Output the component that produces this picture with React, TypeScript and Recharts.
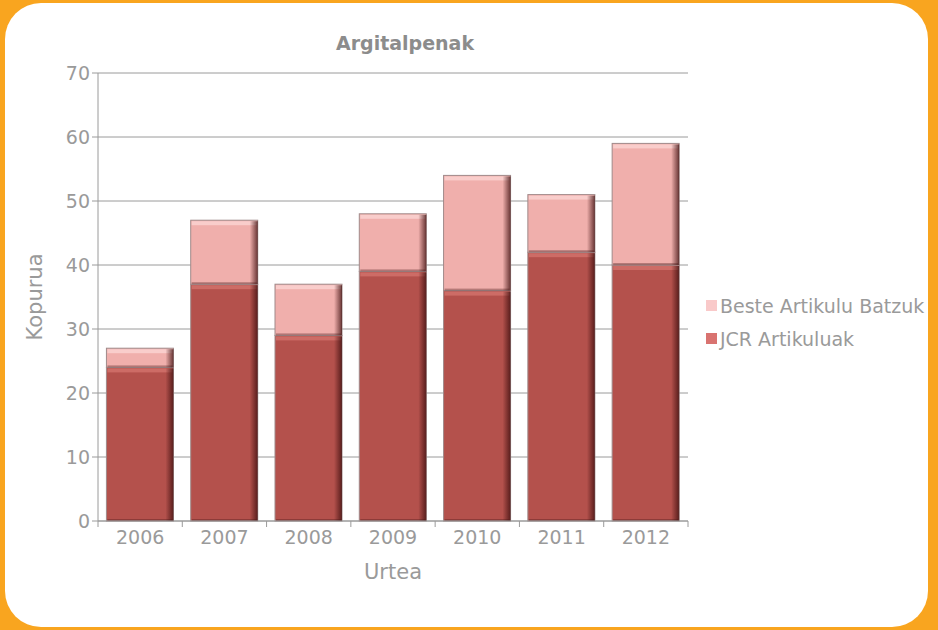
import React from "react";
import { BarChart, Bar, XAxis, YAxis, CartesianGrid, Label } from "recharts";

// data
const years = ["2006", "2007", "2008", "2009", "2010", "2011", "2012"];
const jcrArtikuluak = [24, 37, 29, 39, 36, 42, 40];
const besteArtikuluak = [3, 10, 8, 9, 18, 9, 19];
const yTicks = [0, 10, 20, 30, 40, 50, 60, 70];

const seriesNames = {
  jcr: "JCR Artikuluak",
  beste: "Beste Artikulu Batzuk",
};

const data = years.map((year, i) => ({
  year,
  jcr: jcrArtikuluak[i],
  beste: besteArtikuluak[i],
}));

const FONT = "'DejaVu Sans', sans-serif";
const GREY = "#9a9a9a";

function BevelBar(props: any) {
  const { x, y, width, height, tone } = props;
  if (!height || height <= 0) return null;
  const body = tone === "dark" ? "#b4514c" : "#f0afac";
  const hi = tone === "dark" ? "#cd6c66" : "#f9cdcb";
  const hiH = Math.min(4, Math.max(0, height - 2));
  return (
    <g>
      <rect x={x} y={y} width={width} height={height} fill={body} stroke="#a08a8a" strokeWidth={1} />
      <rect x={x + 1} y={y + 1} width={width - 2} height={hiH} fill={hi} />
      <rect x={x + width - 8} y={y + 1} width={8} height={height - 1} fill="url(#shadeR)" />
      <rect x={x + 1} y={y + height - 2} width={width - 2} height={2} fill="rgba(70,20,20,0.35)" />
    </g>
  );
}

function XTick(props: any) {
  const { x, y, payload, index } = props;
  const half = payload?.offset ?? 42;
  return (
    <g>
      <line x1={x - half} y1={y - 8} x2={x - half} y2={y - 2} stroke={GREY} />
      {index === years.length - 1 && (
        <line x1={x + half} y1={y - 8} x2={x + half} y2={y - 2} stroke={GREY} />
      )}
      <text x={x} y={y + 15} textAnchor="middle" fill={GREY} fontSize={19} fontFamily={FONT}>
        {payload.value}
      </text>
    </g>
  );
}

export default function App() {
  return (
    <div
      style={{
        position: "absolute",
        top: 0,
        left: 0,
        width: 938,
        height: 630,
        background: "#f9a51f",
        fontFamily: FONT,
      }}
    >
      <div
        style={{
          position: "absolute",
          left: 5,
          top: 3,
          width: 923,
          height: 624,
          background: "#ffffff",
          borderRadius: 36,
        }}
      />
      <div
        style={{
          position: "absolute",
          left: 0,
          top: 32,
          width: 810,
          textAlign: "center",
          fontSize: 19,
          fontWeight: "bold",
          color: "#8c8c8c",
        }}
      >
        Argitalpenak
      </div>

      <div style={{ position: "absolute", left: 0, top: 0 }}>
        <BarChart
          width={938}
          height={630}
          data={data}
          margin={{ top: 73, right: 250, bottom: 49, left: 38 }}
          barCategoryGap="10%"
        >
          <defs>
            <linearGradient id="shadeR" x1="0" y1="0" x2="1" y2="0">
              <stop offset="0%" stopColor="#3a0c0c" stopOpacity={0} />
              <stop offset="100%" stopColor="#3a0c0c" stopOpacity={0.75} />
            </linearGradient>
          </defs>
          <CartesianGrid vertical={false} stroke={GREY} strokeWidth={1} />
          <XAxis
            dataKey="year"
            height={60}
            axisLine={{ stroke: GREY }}
            tickLine={false}
            tick={<XTick />}
            interval={0}
          >
            <Label value="Urtea" position="insideBottom" offset={2} fill={GREY} fontSize={21} fontFamily={FONT} />
          </XAxis>
          <YAxis
            width={60}
            domain={[0, 70]}
            ticks={yTicks}
            interval={0}
            axisLine={{ stroke: GREY }}
            tickLine={{ stroke: GREY }}
            tickSize={6}
            tick={{ fill: GREY, fontSize: 19, fontFamily: FONT }}
          >
            <Label value="Kopurua" angle={-90} position="insideLeft" offset={-3} fill={GREY} fontSize={21} fontFamily={FONT} style={{ textAnchor: "middle" }} />
          </YAxis>
          <YAxis yAxisId="frame" orientation="right" width={0} domain={[0, 70]} tick={false} tickLine={false} axisLine={{ stroke: GREY }} />
          <Bar
            dataKey="jcr"
            stackId="a"
            name={seriesNames.jcr}
            fill="#b4514c"
            isAnimationActive={false}
            shape={(p: any) => <BevelBar {...p} tone="dark" />}
          />
          <Bar
            dataKey="beste"
            stackId="a"
            name={seriesNames.beste}
            fill="#f0afac"
            isAnimationActive={false}
            shape={(p: any) => <BevelBar {...p} tone="light" />}
          />
        </BarChart>
      </div>

      <div style={{ position: "absolute", left: 706, top: 289, color: GREY, fontSize: 19 }}>
        {[
          { name: seriesNames.beste, color: "#f9c9c9" },
          { name: seriesNames.jcr, color: "#d97370" },
        ].map((item) => (
          <div key={item.name} style={{ display: "flex", alignItems: "center", height: 33, whiteSpace: "nowrap" }}>
            <span style={{ width: 11, height: 11, background: item.color, marginRight: 3, display: "inline-block" }} />
            {item.name}
          </div>
        ))}
      </div>
    </div>
  );
}
